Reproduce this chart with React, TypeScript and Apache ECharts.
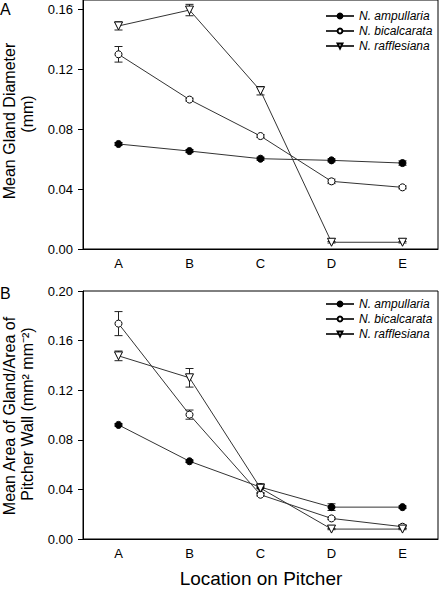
import React, { useEffect, useRef } from "react";
import * as echarts from "echarts";

const categories = ["A", "B", "C", "D", "E"];
const seriesNames = ["N. ampullaria", "N. bicalcarata", "N. rafflesiana"];

// Panel A: Mean gland diameter (mm)
const diamAmp = [0.07, 0.0653, 0.0602, 0.0591, 0.0573];
const diamAmpErr = [0.001, 0.001, 0.001, 0.001, 0.0015];
const diamBic = [0.1298, 0.0996, 0.0753, 0.0451, 0.0411];
const diamBicErr = [0.0052, 0.001, 0.001, 0.0015, 0.001];
const diamRaf = [0.1487, 0.1593, 0.1055, 0.0045, 0.0045];
const diamRafErr = [0.0027, 0.0038, 0.0028, 0.0005, 0.0005];

// Panel B: Mean area of gland / area of pitcher wall
const areaAmp = [0.092, 0.0627, 0.0418, 0.0257, 0.0257];
const areaAmpErr = [0.001, 0.001, 0.001, 0.0027, 0.001];
const areaBic = [0.1737, 0.1003, 0.0357, 0.0166, 0.0099];
const areaBicErr = [0.0097, 0.0037, 0.001, 0.001, 0.0015];
const areaRaf = [0.1477, 0.13, 0.041, 0.008, 0.008];
const areaRafErr = [0.0039, 0.0075, 0.0035, 0.0005, 0.0005];

const yTicksA = [0, 0.04, 0.08, 0.12, 0.16];
const yTicksB = [0, 0.04, 0.08, 0.12, 0.16, 0.2];

const FONT = "Liberation Sans, Arial, sans-serif";
const LINE = "#333";

const symbolStyles = [
  { symbol: "circle", symbolSize: 7, symbolRotate: 0, itemStyle: { color: "#000", borderColor: "#000", borderWidth: 1 } },
  { symbol: "circle", symbolSize: 7, symbolRotate: 0, itemStyle: { color: "#fff", borderColor: "#000", borderWidth: 1 } },
  { symbol: "triangle", symbolSize: 8, symbolRotate: 180, itemStyle: { color: "#fff", borderColor: "#000", borderWidth: 1 } },
];

function errSeries(values: number[], errs: number[], gridIdx: number) {
  return {
    type: "custom",
    xAxisIndex: gridIdx,
    yAxisIndex: gridIdx,
    z: 1,
    silent: true,
    encode: { x: 0, y: 1 },
    data: values.map((v, i) => [i, v, errs[i]]),
    renderItem: (params: any, api: any) => {
      const x = api.value(0);
      const y = api.value(1);
      const e = api.value(2);
      const top = api.coord([x, y + e]);
      const bot = api.coord([x, y - e]);
      const hw = 4;
      const style = { stroke: "#222", lineWidth: 1 };
      return {
        type: "group",
        children: [
          { type: "line", shape: { x1: top[0], y1: top[1], x2: bot[0], y2: bot[1] }, style },
          { type: "line", shape: { x1: top[0] - hw, y1: top[1], x2: top[0] + hw, y2: top[1] }, style },
          { type: "line", shape: { x1: bot[0] - hw, y1: bot[1], x2: bot[0] + hw, y2: bot[1] }, style },
        ],
      };
    },
  };
}

function lineSeries(name: string, values: number[], gridIdx: number, k: number) {
  const s = symbolStyles[k];
  return {
    type: "line",
    name,
    xAxisIndex: gridIdx,
    yAxisIndex: gridIdx,
    z: 3,
    data: values,
    symbol: s.symbol,
    symbolSize: s.symbolSize,
    symbolRotate: s.symbolRotate,
    showAllSymbol: true,
    itemStyle: s.itemStyle,
    lineStyle: { color: LINE, width: 1 },
    emphasis: { disabled: true },
  };
}

function xAxis(gridIndex: number) {
  return {
    type: "category",
    gridIndex,
    data: categories,
    boundaryGap: true,
    axisLine: { lineStyle: { color: "#000", width: 1 } },
    axisTick: { alignWithLabel: true, length: 4, lineStyle: { color: "#000" } },
    axisLabel: { color: "#000", fontSize: 13, fontFamily: FONT, margin: 8 },
    splitLine: { show: false },
  };
}

function yAxis(gridIndex: number, max: number, ticks: number[]) {
  return {
    type: "value",
    gridIndex,
    min: 0,
    max,
    axisLine: { show: true, lineStyle: { color: "#000", width: 1 } },
    axisTick: { show: true, length: 5, customValues: ticks, lineStyle: { color: "#000" } },
    axisLabel: {
      color: "#000",
      fontSize: 13,
      fontFamily: FONT,
      margin: 10,
      customValues: ticks,
      formatter: (v: number) => v.toFixed(2),
    },
    splitLine: { show: false },
  };
}

function legend(top: number) {
  return {
    orient: "vertical",
    left: 320,
    top,
    itemWidth: 28,
    itemHeight: 6,
    itemGap: 3,
    selectedMode: false,
    data: seriesNames,
    textStyle: { fontSize: 12, fontStyle: "italic", fontFamily: FONT, color: "#000", lineHeight: 12 },
  };
}

export default function App() {
  const ref = useRef<HTMLDivElement>(null);
  useEffect(() => {
    if (!ref.current) return;
    const chart = echarts.init(ref.current, null, { renderer: "svg" });
    const option: any = {
      animation: false,
      backgroundColor: "#fff",
      grid: [
        { left: 83, top: 0, width: 355, height: 249, show: true, borderColor: "#000", borderWidth: 1, containLabel: false },
        { left: 83, top: 291, width: 355, height: 248, show: true, borderColor: "#000", borderWidth: 1, containLabel: false },
      ],
      xAxis: [xAxis(0), xAxis(1)],
      yAxis: [yAxis(0, 0.166, yTicksA), yAxis(1, 0.2, yTicksB)],
      legend: [legend(5), legend(293)],
      series: [
        errSeries(diamAmp, diamAmpErr, 0),
        errSeries(diamBic, diamBicErr, 0),
        errSeries(diamRaf, diamRafErr, 0),
        lineSeries(seriesNames[0], diamAmp, 0, 0),
        lineSeries(seriesNames[1], diamBic, 0, 1),
        lineSeries(seriesNames[2], diamRaf, 0, 2),
        errSeries(areaAmp, areaAmpErr, 1),
        errSeries(areaBic, areaBicErr, 1),
        errSeries(areaRaf, areaRafErr, 1),
        lineSeries(seriesNames[0], areaAmp, 1, 0),
        lineSeries(seriesNames[1], areaBic, 1, 1),
        lineSeries(seriesNames[2], areaRaf, 1, 2),
      ],
      graphic: [
        { type: "text", left: 0, top: 1, style: { text: "A", fontSize: 16, fontFamily: FONT, fill: "#000" } },
        { type: "text", left: 0, top: 285, style: { text: "B", fontSize: 16, fontFamily: FONT, fill: "#000" } },
        {
          type: "text", x: 9, y: 121, rotation: Math.PI / 2,
          style: { text: "Mean Gland Diameter", fontSize: 16, fontFamily: FONT, fill: "#000", align: "center", verticalAlign: "middle" },
        },
        {
          type: "text", x: 27, y: 114, rotation: Math.PI / 2,
          style: { text: "(mm)", fontSize: 16, fontFamily: FONT, fill: "#000", align: "center", verticalAlign: "middle" },
        },
        {
          type: "text", x: 9, y: 416, rotation: Math.PI / 2,
          style: { text: "Mean Area of Gland/Area of", fontSize: 16, fontFamily: FONT, fill: "#000", align: "center", verticalAlign: "middle" },
        },
        {
          type: "text", x: 27, y: 414, rotation: Math.PI / 2,
          style: { text: "Pitcher Wall (mm² mm⁻²)", fontSize: 16, fontFamily: FONT, fill: "#000", align: "center", verticalAlign: "middle" },
        },
        {
          type: "text", x: 261, y: 578,
          style: { text: "Location on Pitcher", fontSize: 19, fontFamily: FONT, fill: "#000", align: "center", verticalAlign: "middle" },
        },
      ],
    };
    chart.setOption(option);
    return () => chart.dispose();
  }, []);
  return (
    <div
      ref={ref}
      style={{ position: "absolute", left: 0, top: 0, width: 441, height: 589, background: "#fff" }}
    />
  );
}
